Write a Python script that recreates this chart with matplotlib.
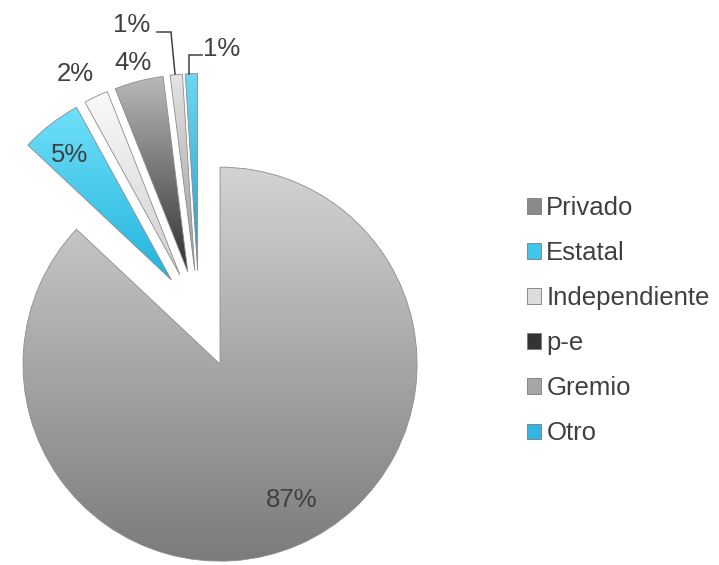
import numpy as np
import matplotlib
matplotlib.use("Agg")
import matplotlib.pyplot as plt
from matplotlib.colors import LinearSegmentedColormap
from matplotlib.patches import Patch

plt.rcParams['font.family'] = ['Liberation Sans', 'DejaVu Sans']

# ---- data ----
categories = ["Privado", "Estatal", "Independiente", "p-e", "Gremio", "Otro"]
values = [87, 5, 2, 4, 1, 1]

# ---- style ----
face_colors = ["#a9a9a9", "#4fd2f2", "#e6e6e6", "#7a7a7a", "#c8c8c8", "#3bbde6"]
grad_top = ["#d3d3d3", "#6fe0fa", "#fafafa", "#b9b9b9", "#e4e4e4", "#6fd6f4"]
grad_bot = ["#7b7b7b", "#22b4dd", "#d0d0d0", "#303030", "#9a9a9a", "#1e9fcc"]
explode = [53, 45, 45, 45, 45, 45]   # data units (pixels)
W, H = 719, 565
center = (199, H - 315.5)
radius = 197
txt_color = "#404040"

fig = plt.figure(figsize=(W / 100, H / 100), dpi=100)
ax = fig.add_axes([0, 0, 1, 1])
wedges, _ = ax.pie(values, startangle=90, counterclock=False, radius=radius,
                   center=center, explode=explode, colors=face_colors,
                   wedgeprops=dict(edgecolor="#8c8c8c", linewidth=0.6),
                   frame=True)
ax.set_xlim(0, W)
ax.set_ylim(0, H)
ax.set_aspect('equal')
ax.axis('off')

# gradient fills clipped to wedges
for w, t, b in zip(wedges, grad_top, grad_bot):
    path = w.get_path()
    verts = w.get_transform().transform(path.vertices)
    inv = ax.transData.inverted().transform(verts)
    x0, y0 = inv.min(axis=0)
    x1, y1 = inv.max(axis=0)
    cmap = LinearSegmentedColormap.from_list("g", [b, t])
    grad = np.linspace(0, 1, 256).reshape(-1, 1)
    im = ax.imshow(grad, extent=(x0, x1, y0, y1), origin='lower', cmap=cmap,
                   aspect='auto', zorder=w.get_zorder() + 0.1,
                   interpolation='bilinear')
    im.set_clip_path(w)
    w.set_zorder(w.get_zorder() + 0.2)
    w.set_facecolor("none")

ax.set_xlim(0, W)
ax.set_ylim(0, H)

total = sum(values)
pct = [f"{round(v / total * 100):d}%" for v in values]

def P(x, y):
    return (x, H - y)

label_pos = [(292, 500), (70, 155), (75, 74), (133, 63), (132, 25), (222, 49)]
for s, (x, y) in zip(pct, label_pos):
    ax.text(*P(x, y), s, ha='center', va='center', fontsize=18.5,
            color=txt_color, zorder=10)

# leader lines
lx = [157, 171, 175]
ly = [32, 32, 74]
ax.plot([P(a, b)[0] for a, b in zip(lx, ly)], [P(a, b)[1] for a, b in zip(lx, ly)],
        color="#404040", lw=1.1, zorder=10, solid_joinstyle='miter')
rx = [202, 189, 189]
ry = [55, 55, 74]
ax.plot([P(a, b)[0] for a, b in zip(rx, ry)], [P(a, b)[1] for a, b in zip(rx, ry)],
        color="#404040", lw=1.1, zorder=10, solid_joinstyle='miter')

# legend
leg_colors = ["#8a8a8a", "#3fc6ee", "#dcdcdc", "#333333", "#a6a6a6", "#30b6e2"]
handles = [Patch(facecolor=c, edgecolor="#7a7a7a", linewidth=0.6) for c in leg_colors]
leg = ax.legend(handles, categories, loc='upper left',
                bbox_to_anchor=(527 / W, 1 - 196 / H), frameon=False,
                fontsize=18.5, handlelength=0.55, handleheight=0.55,
                handletextpad=0.2, labelspacing=0.82, borderpad=0,
                borderaxespad=0)
for t in leg.get_texts():
    t.set_color(txt_color)

fig.savefig("out.png", dpi=100)
